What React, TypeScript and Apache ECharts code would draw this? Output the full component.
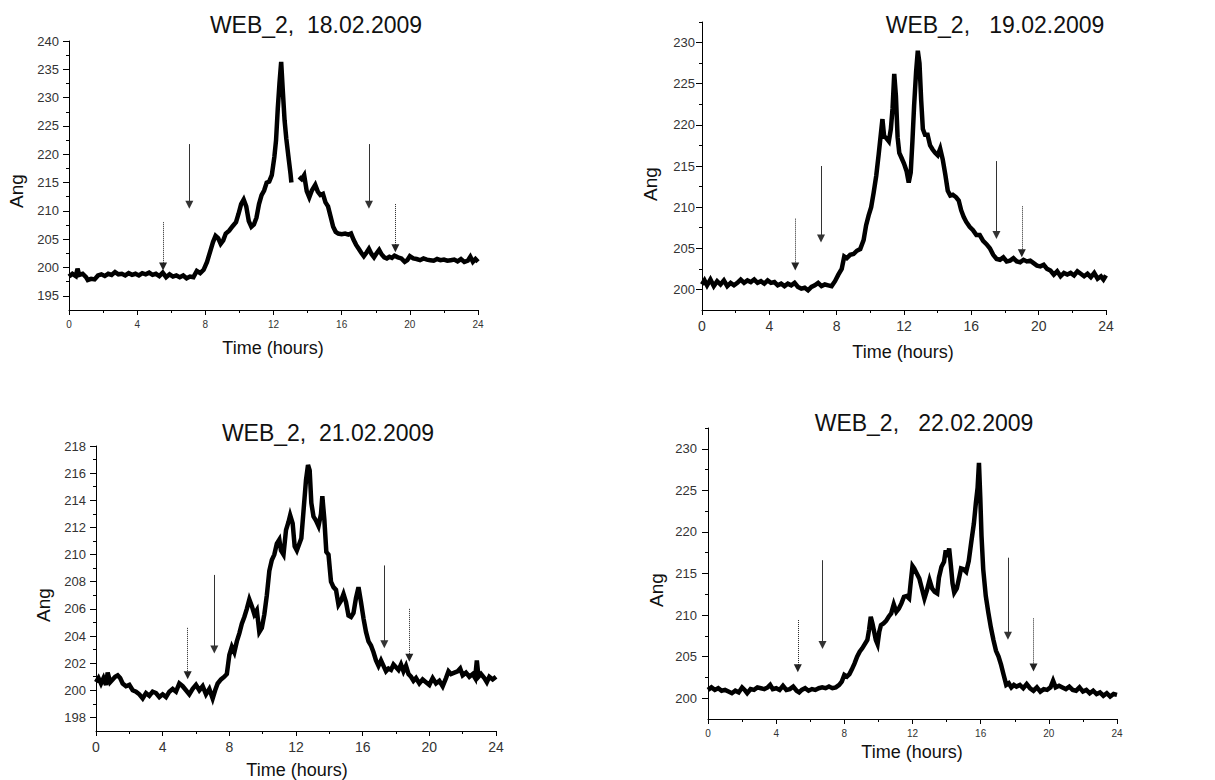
import React, { useEffect, useRef } from 'react';
import * as echarts from 'echarts';

// ---------- data ----------
const titles = ['WEB_2,  18.02.2009', 'WEB_2,   19.02.2009', 'WEB_2,  21.02.2009', 'WEB_2,   22.02.2009'];
const yAxisName = 'Ang';
const xAxisName = 'Time (hours)';
const xTickLabels = [0, 4, 8, 12, 16, 20, 24];

const yMajor18 = [195, 200, 205, 210, 215, 220, 225, 230, 235, 240];
const yMinor18 = [197.5, 202.5, 207.5, 212.5, 217.5, 222.5, 227.5, 232.5, 237.5];
const yMajor19 = [200, 205, 210, 215, 220, 225, 230];
const yMinor19 = [202.5, 207.5, 212.5, 217.5, 222.5, 227.5, 232.5];
const yMajor21 = [198, 200, 202, 204, 206, 208, 210, 212, 214, 216, 218];
const yMinor21 = [199, 201, 203, 205, 207, 209, 211, 213, 215, 217];
const yMajor22 = [200, 205, 210, 215, 220, 225, 230];
const yMinor22 = [202.5, 207.5, 212.5, 217.5, 222.5, 227.5, 232.5];

const web18: [number, number | null][] = [
  [0,198.4],[0.2,198.9],[0.4,198.5],[0.5,199.8],[0.6,198.7],[0.8,198.9],[1.0,198.3],[1.1,197.8],[1.3,198.0],[1.5,197.9],
  [1.7,198.6],[1.9,198.8],[2.1,198.5],[2.3,198.9],[2.5,198.7],[2.7,199.2],[2.9,198.8],[3.1,198.9],[3.3,198.6],[3.5,199.0],
  [3.7,198.7],[3.9,198.9],[4.1,198.6],[4.3,199.0],[4.5,198.8],[4.7,199.1],[4.9,198.7],[5.1,198.9],[5.3,198.5],[5.5,199.1],
  [5.7,198.3],[5.9,198.8],[6.1,198.4],[6.3,198.6],[6.5,198.3],[6.7,198.6],[6.9,198.1],[7.1,198.4],[7.3,198.3],[7.5,199.4],
  [7.7,199.0],[7.9,199.6],[8.1,201.0],[8.3,203.0],[8.45,204.5],[8.6,205.6],[8.75,205.2],[8.9,204.2],[9.05,204.8],[9.2,206.0],
  [9.4,206.5],[9.6,207.3],[9.8,208.0],[9.95,209.5],[10.1,211.2],[10.25,212.0],[10.4,210.8],[10.55,208.2],[10.7,207.2],[10.85,207.6],
  [11.0,208.8],[11.15,211.2],[11.3,212.8],[11.45,213.6],[11.6,215.0],[11.75,215.2],[11.9,216.3],[12.05,219.5],[12.15,222.5],[12.25,228.0],
  [12.35,232.5],[12.45,236.3],[12.55,231.0],[12.65,226.0],[12.75,222.8],[12.9,219.0],[13.0,216.5],[13.05,215.0],[13.25,null],
  [13.5,216.0],[13.65,215.6],[13.8,216.3],[13.95,213.5],[14.1,212.4],[14.25,213.6],[14.45,214.6],[14.6,213.4],[14.75,212.8],[14.9,213.0],
  [15.05,211.5],[15.2,210.8],[15.35,209.0],[15.5,207.2],[15.65,206.3],[15.8,206.0],[16.0,205.9],[16.2,206.0],[16.4,205.8],[16.55,206.0],
  [16.7,204.9],[16.85,204.0],[17.0,203.3],[17.15,202.6],[17.3,202.0],[17.45,202.6],[17.6,203.3],[17.75,202.4],[17.9,201.8],[18.05,202.5],
  [18.2,203.1],[18.35,202.3],[18.5,201.8],[18.65,201.6],[18.8,201.9],[18.95,201.7],[19.1,202.1],[19.3,201.8],[19.5,201.6],[19.7,201.0],
  [19.85,201.3],[20.0,202.0],[20.2,201.6],[20.4,201.5],[20.6,201.3],[20.8,201.6],[21.0,201.4],[21.2,201.3],[21.4,201.2],[21.6,201.5],
  [21.8,201.3],[22.0,201.4],[22.2,201.2],[22.4,201.3],[22.6,201.4],[22.8,201.1],[23.0,201.5],[23.2,201.0],[23.4,201.2],[23.55,201.9],
  [23.7,201.0],[23.85,201.5],[24.0,201.0]
];

const web19: [number, number | null][] = [
  [0,200.6],[0.15,201.1],[0.3,200.5],[0.5,201.2],[0.7,200.4],[0.9,201.0],[1.1,200.6],[1.3,201.1],[1.5,200.4],[1.7,200.8],
  [1.9,200.5],[2.1,200.8],[2.3,201.2],[2.5,200.8],[2.7,201.1],[2.9,200.9],[3.1,201.2],[3.3,200.8],[3.5,201.0],[3.7,200.7],
  [3.9,201.1],[4.1,200.8],[4.3,200.9],[4.5,200.5],[4.7,200.7],[4.9,200.4],[5.1,200.7],[5.3,200.5],[5.5,200.8],[5.7,200.3],
  [5.9,200.1],[6.1,200.2],[6.3,199.9],[6.5,200.3],[6.7,200.5],[6.9,200.8],[7.1,200.4],[7.3,200.6],[7.5,200.5],[7.7,200.4],
  [7.9,201.0],[8.1,201.8],[8.3,202.5],[8.45,204.0],[8.6,203.8],[8.8,204.2],[9.0,204.3],[9.2,204.7],[9.4,204.9],[9.6,206.0],
  [9.75,207.8],[9.9,209.0],[10.05,210.0],[10.2,211.8],[10.35,213.8],[10.5,216.5],[10.62,218.8],[10.72,220.7],[10.82,218.6],[10.95,218.4],
  [11.1,218.0],[11.22,219.5],[11.32,222.0],[11.42,226.2],[11.52,223.5],[11.62,218.5],[11.72,216.6],[11.85,216.0],[12.0,215.3],[12.15,214.4],
  [12.28,213.0],[12.4,214.2],[12.5,218.0],[12.6,222.3],[12.72,226.5],[12.82,229.0],[12.92,227.5],[13.02,223.0],[13.12,219.5],[13.25,218.8],
  [13.4,218.8],[13.55,217.5],[13.7,217.0],[13.85,216.6],[14.0,216.3],[14.15,217.1],[14.3,215.8],[14.45,214.0],[14.6,212.0],[14.75,211.4],
  [14.9,211.5],[15.1,211.2],[15.25,210.8],[15.4,209.6],[15.55,208.8],[15.7,208.2],[15.9,207.6],[16.1,207.2],[16.3,206.6],[16.5,206.6],
  [16.7,205.9],[16.9,205.5],[17.1,205.0],[17.3,204.2],[17.5,203.7],[17.7,203.6],[17.9,203.9],[18.1,203.4],[18.3,203.5],[18.5,203.8],
  [18.7,203.4],[18.9,203.3],[19.1,203.6],[19.3,203.4],[19.5,203.5],[19.7,203.2],[19.9,202.9],[20.1,202.8],[20.3,203.0],[20.5,202.5],
  [20.7,202.3],[20.9,201.8],[21.1,202.2],[21.3,201.6],[21.5,202.0],[21.7,201.8],[21.9,202.0],[22.1,201.7],[22.3,202.2],[22.5,201.9],
  [22.7,201.6],[22.9,201.9],[23.1,201.5],[23.3,202.0],[23.5,201.3],[23.7,201.6],[23.85,201.2],[24.0,201.7]
];

const web21: [number, number | null][] = [
  [0,200.6],[0.15,200.9],[0.3,200.5],[0.45,200.9],[0.6,200.4],[0.7,201.3],[0.85,200.6],[1.0,200.8],[1.15,201.0],[1.3,201.1],
  [1.45,200.9],[1.6,200.5],[1.8,200.3],[2.0,200.4],[2.2,200.0],[2.4,199.9],[2.6,199.7],[2.8,199.4],[3.0,199.8],[3.2,199.6],
  [3.4,199.9],[3.6,199.8],[3.8,199.5],[4.0,199.7],[4.2,199.5],[4.4,199.9],[4.6,200.1],[4.8,199.9],[5.0,200.5],[5.2,200.3],
  [5.4,200.0],[5.6,199.7],[5.8,200.1],[6.0,200.4],[6.2,200.0],[6.4,200.3],[6.6,199.7],[6.8,200.1],[7.0,199.4],[7.15,200.0],
  [7.3,200.5],[7.5,200.8],[7.7,201.0],[7.85,201.2],[8.0,202.6],[8.15,203.2],[8.3,202.8],[8.45,203.6],[8.6,204.2],[8.75,204.9],
  [8.9,205.4],[9.05,206.0],[9.2,206.7],[9.35,206.2],[9.5,205.6],[9.65,205.9],[9.8,204.3],[9.95,204.6],[10.1,205.6],[10.25,207.0],
  [10.4,208.8],[10.55,209.6],[10.7,210.0],[10.85,210.8],[11.0,211.1],[11.1,210.3],[11.25,210.0],[11.4,211.8],[11.55,212.4],[11.65,212.9],
  [11.8,212.3],[11.92,210.6],[12.05,210.3],[12.2,210.8],[12.32,211.2],[12.45,213.2],[12.6,215.5],[12.72,216.6],[12.82,216.2],[12.92,213.8],
  [13.05,212.8],[13.2,212.5],[13.35,212.1],[13.5,213.0],[13.58,214.3],[13.7,212.6],[13.82,210.2],[13.95,210.0],[14.1,208.0],[14.25,207.6],
  [14.4,207.4],[14.55,206.3],[14.7,206.6],[14.85,207.1],[15.0,206.5],[15.15,205.5],[15.3,205.4],[15.45,205.7],[15.6,206.8],[15.75,207.6],
  [15.9,206.5],[16.05,205.3],[16.2,204.3],[16.35,203.6],[16.5,203.3],[16.65,202.8],[16.8,202.2],[16.95,201.8],[17.1,202.2],[17.25,201.8],
  [17.4,201.4],[17.55,201.6],[17.7,201.5],[17.85,201.9],[18.0,201.7],[18.15,201.5],[18.3,201.9],[18.45,201.4],[18.6,201.8],[18.75,201.2],
  [18.9,201.0],[19.05,200.7],[19.2,200.9],[19.4,200.5],[19.6,200.8],[19.8,200.6],[20.0,200.4],[20.2,200.9],[20.4,200.5],[20.6,200.7],
  [20.8,200.3],[21.0,200.9],[21.15,201.4],[21.3,201.2],[21.5,201.3],[21.7,201.4],[21.85,201.6],[22.0,201.1],[22.2,201.3],[22.4,201.0],
  [22.6,201.2],[22.75,200.9],[22.85,202.2],[22.95,201.0],[23.1,201.2],[23.3,200.9],[23.45,200.6],[23.6,201.0],[23.8,200.8],[24.0,201.0]
];

const web22: [number, number | null][] = [
  [0,201.0],[0.2,201.3],[0.4,201.0],[0.6,201.2],[0.8,200.9],[1.0,201.0],[1.2,200.8],[1.4,200.6],[1.6,200.9],[1.8,200.7],
  [2.0,201.3],[2.15,201.0],[2.3,200.6],[2.5,201.1],[2.7,201.0],[2.9,201.3],[3.1,201.2],[3.3,201.1],[3.5,201.3],[3.65,201.6],
  [3.8,201.1],[4.0,201.2],[4.2,201.0],[4.4,201.5],[4.6,201.0],[4.8,201.1],[5.0,201.4],[5.2,200.9],[5.35,200.7],[5.5,201.0],
  [5.7,201.2],[5.9,200.9],[6.1,201.1],[6.3,201.0],[6.5,201.2],[6.7,201.3],[6.9,201.2],[7.1,201.4],[7.3,201.2],[7.5,201.3],
  [7.7,201.6],[7.85,202.0],[8.0,202.8],[8.15,202.6],[8.3,202.9],[8.45,203.5],[8.6,204.2],[8.75,205.0],[8.9,205.6],[9.05,206.0],
  [9.2,206.5],[9.35,207.0],[9.45,208.2],[9.55,209.8],[9.65,209.0],[9.75,208.0],[9.85,207.0],[9.95,206.5],[10.05,208.0],[10.15,208.8],
  [10.3,209.0],[10.45,209.3],[10.6,209.8],[10.75,210.2],[10.9,211.3],[11.05,210.4],[11.2,210.8],[11.35,211.4],[11.5,212.2],[11.65,212.3],
  [11.8,212.0],[11.9,214.0],[12.0,215.9],[12.1,215.6],[12.25,215.0],[12.4,214.4],[12.55,213.2],[12.7,212.0],[12.85,213.0],[13.0,214.2],
  [13.15,213.2],[13.3,212.8],[13.45,212.6],[13.55,214.5],[13.7,215.8],[13.85,216.4],[13.95,217.8],[14.05,217.0],[14.15,218.0],[14.25,216.0],
  [14.35,213.8],[14.45,212.7],[14.6,213.2],[14.75,214.6],[14.85,215.6],[15.0,215.5],[15.15,215.2],[15.3,216.5],[15.45,218.8],[15.6,221.0],
  [15.72,223.5],[15.82,225.3],[15.9,228.3],[15.98,224.0],[16.05,219.5],[16.15,215.5],[16.3,212.3],[16.45,210.3],[16.6,208.5],[16.75,207.0],
  [16.9,205.7],[17.05,205.0],[17.2,204.0],[17.35,202.8],[17.5,201.6],[17.65,201.8],[17.8,201.3],[17.95,201.6],[18.1,201.4],[18.3,201.6],
  [18.5,201.2],[18.7,201.7],[18.9,201.2],[19.1,200.9],[19.3,201.3],[19.5,200.8],[19.7,201.1],[19.9,201.0],[20.1,201.3],[20.25,202.1],
  [20.4,201.3],[20.6,201.5],[20.8,201.3],[21.0,201.1],[21.2,201.4],[21.4,201.0],[21.6,200.9],[21.8,201.3],[22.0,200.8],[22.2,201.0],
  [22.4,200.6],[22.6,200.9],[22.8,200.5],[23.0,200.7],[23.2,200.3],[23.4,200.6],[23.6,200.2],[23.8,200.5],[24.0,200.4]
];

// arrows: [hour, from value, to value, dotted]
const arrows18: [number, number, number, boolean][] = [[5.52, 208.0, 200.2, true], [7.06, 221.8, 211.1, false], [17.6, 221.8, 211.1, false], [19.15, 211.2, 203.4, true]];
const arrows19: [number, number, number, boolean][] = [[5.54, 208.6, 202.8, true], [7.07, 215.0, 206.2, false], [17.49, 215.6, 206.6, false], [19.0, 210.1, 204.4, true]];
const arrows21: [number, number, number, boolean][] = [[5.5, 204.6, 201.1, true], [7.1, 208.5, 203.0, false], [17.3, 209.2, 203.4, false], [18.8, 206.0, 202.4, true]];
const arrows22: [number, number, number, boolean][] = [[5.27, 209.4, 203.6, true], [6.72, 216.6, 206.4, false], [17.6, 216.9, 207.5, false], [19.1, 209.6, 203.7, true]];

// ---------- layout ----------
const panels = [
  { data: web18, arrows: arrows18, yMajor: yMajor18, yMinor: yMinor18, yMin: 192.5, yMax: 240,
    left: 69, top: 41, width: 409, height: 269, xFont: 10, yFont: 13, yMargin: 10,
    title: [316, 25], yName: [16, 191], xName: [273, 348] },
  { data: web19, arrows: arrows19, yMajor: yMajor19, yMinor: yMinor19, yMin: 197.5, yMax: 232.5,
    left: 702, top: 22, width: 404, height: 288, xFont: 14, yFont: 13, yMargin: 7,
    title: [995, 25], yName: [650, 184], xName: [903, 352] },
  { data: web21, arrows: arrows21, yMajor: yMajor21, yMinor: yMinor21, yMin: 197, yMax: 218,
    left: 96, top: 446, width: 400, height: 285, xFont: 14, yFont: 13, yMargin: 10,
    title: [328, 433], yName: [43, 605], xName: [297, 770] },
  { data: web22, arrows: arrows22, yMajor: yMajor22, yMinor: yMinor22, yMin: 197.5, yMax: 232.5,
    left: 708, top: 428, width: 409, height: 291, xFont: 10, yFont: 13, yMargin: 11,
    title: [924, 423], yName: [656, 590], xName: [912, 752] },
];

const FONT = '"Liberation Sans", Arial, sans-serif';

function buildOption() {
  const grid: any[] = [];
  const xAxis: any[] = [];
  const yAxis: any[] = [];
  const series: any[] = [];
  const graphic: any[] = [];

  panels.forEach((p, i) => {
    grid.push({ left: p.left, top: p.top, width: p.width, height: p.height, containLabel: false });
    xAxis.push({
      type: 'value', gridIndex: i, min: 0, max: 24, interval: 4,
      axisLine: { show: true, onZero: false, lineStyle: { color: '#000', width: 1 } },
      axisTick: { show: true, length: 5, lineStyle: { color: '#000' } },
      minorTick: { show: true, splitNumber: 2, length: 3, lineStyle: { color: '#000' } },
      axisLabel: { fontSize: p.xFont, color: '#333', fontFamily: FONT, margin: 9,
        customValues: xTickLabels },
      splitLine: { show: false },
    });
    yAxis.push({
      type: 'value', gridIndex: i, min: p.yMin, max: p.yMax, position: 'left',
      axisLine: { show: true, onZero: false, lineStyle: { color: '#000', width: 1 } },
      axisTick: { show: true, length: 6, customValues: p.yMajor, lineStyle: { color: '#000' } },
      axisLabel: { fontSize: p.yFont, color: '#333', fontFamily: FONT, margin: p.yMargin,
        customValues: p.yMajor },
      splitLine: { show: false },
    });
    yAxis.push({
      type: 'value', gridIndex: i, min: p.yMin, max: p.yMax, position: 'left',
      axisLine: { show: false },
      axisTick: { show: true, length: 3, customValues: p.yMinor, lineStyle: { color: '#000' } },
      axisLabel: { show: false },
      splitLine: { show: false },
    });
    series.push({
      type: 'line', xAxisIndex: i, yAxisIndex: 2 * i,
      data: p.data.map(([x, y]) => (y === null ? [x, '-'] : [x, y])),
      showSymbol: false, connectNulls: false,
      lineStyle: { color: '#000', width: 4.5, join: 'miter' },
      silent: true,
      markLine: {
        silent: true, animation: false,
        symbol: ['none', 'triangle'], symbolSize: 8,
        label: { show: false },
        data: p.arrows.map(([x, y1, y2, dotted]) => [
          { coord: [x, y1], lineStyle: { type: dotted ? 'dotted' : 'solid', color: dotted ? '#222' : '#333', width: 1 },
            itemStyle: { color: '#111' } },
          { coord: [x, y2], itemStyle: { color: '#111' } },
        ]),
      },
    });
    graphic.push({
      type: 'text', x: p.title[0], y: p.title[1],
      style: { text: titles[i], font: `23px ${FONT}`, fill: '#111', align: 'center', verticalAlign: 'middle' },
    });
    graphic.push({
      type: 'text', x: p.yName[0], y: p.yName[1], rotation: Math.PI / 2,
      style: { text: yAxisName, font: `19px ${FONT}`, fill: '#111', align: 'center', verticalAlign: 'middle' },
    });
    graphic.push({
      type: 'text', x: p.xName[0], y: p.xName[1],
      style: { text: xAxisName, font: `18px ${FONT}`, fill: '#111', align: 'center', verticalAlign: 'middle' },
    });
  });

  return { animation: false, backgroundColor: '#fff', grid, xAxis, yAxis, series, graphic };
}

export default function App() {
  const ref = useRef<HTMLDivElement>(null);
  useEffect(() => {
    if (!ref.current) return;
    const chart = echarts.init(ref.current, null, { renderer: 'svg' });
    chart.setOption(buildOption() as any);
    return () => chart.dispose();
  }, []);
  return (
    <div ref={ref} style={{ position: 'fixed', left: 0, top: 0, width: 1215, height: 780, background: '#fff' }} />
  );
}
